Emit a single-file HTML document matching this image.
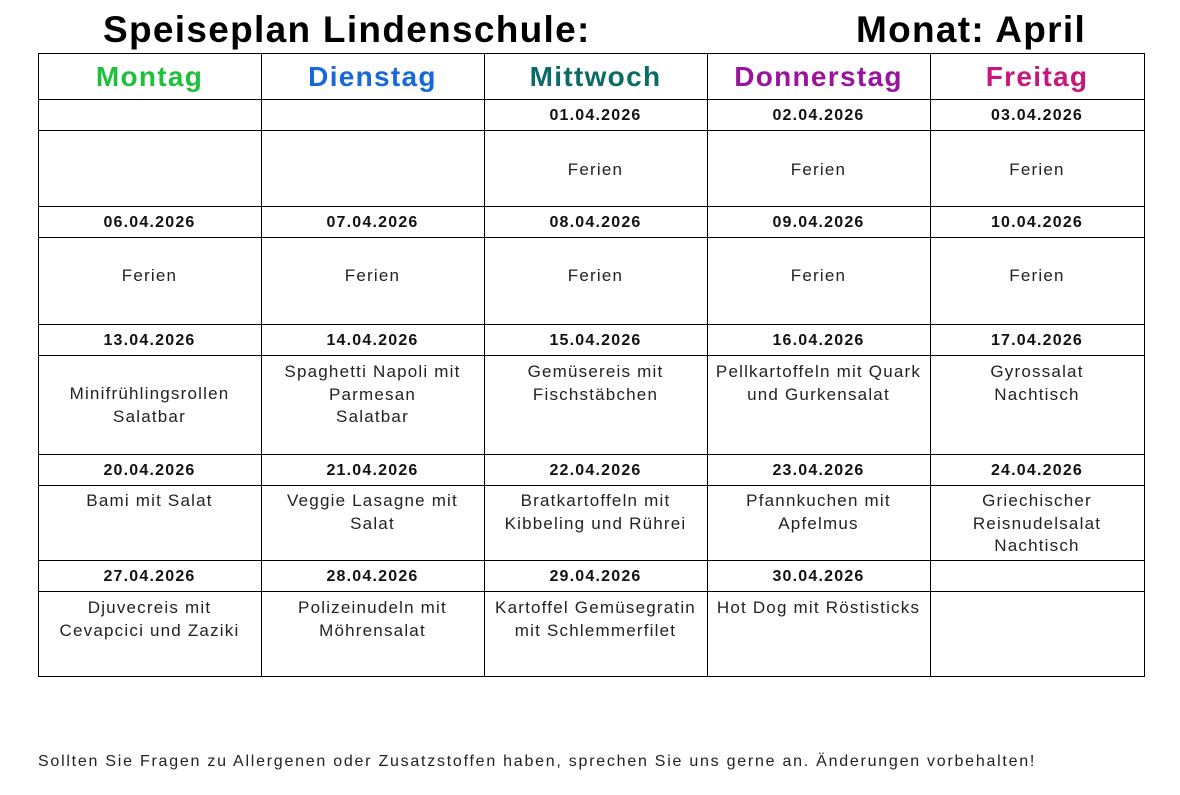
<!DOCTYPE html>
<html><head><meta charset="utf-8"><style>
body{margin:0;width:1180px;height:795px;background:#fff;position:relative;overflow:hidden;font-family:"Liberation Sans",sans-serif;color:#222}
.t{position:absolute;font-weight:bold;font-size:37px;color:#000;white-space:nowrap;top:9px;letter-spacing:1.3px}
.c{position:absolute;box-sizing:border-box;text-align:center;font-size:17px;line-height:22.5px;white-space:nowrap;letter-spacing:1.2px}
.h{font-weight:bold;font-size:28px;display:flex;align-items:center;justify-content:center;letter-spacing:1.3px;padding-top:2px}
.d{font-weight:bold;font-size:16px;display:flex;align-items:center;justify-content:center;color:#111;letter-spacing:1.2px;padding-top:3px}
.l{position:absolute;background:#000}
</style></head><body>
<div class="t" style="left:103px">Speiseplan Lindenschule:</div>
<div class="t" style="left:856px">Monat: April</div>
<div id="g"></div>
<div style="position:absolute;left:38px;top:753px;font-size:16px;color:#222;white-space:nowrap;letter-spacing:1.75px">Sollten Sie Fragen zu Allergenen oder Zusatzstoffen haben, sprechen Sie uns gerne an. Änderungen vorbehalten!</div>
<script>
const X=[38,261,484,707,930,1144],Y=[53,99,130,206,237,324,355,454,485,560,591,676];
let h='';
for(const x of X)h+=`<div class="l" style="left:${x}px;top:53px;width:1px;height:624px"></div>`;
for(const y of Y)h+=`<div class="l" style="left:38px;top:${y}px;width:1107px;height:1px"></div>`;
function cell(ci,ri,cls,html,pad,style=''){h+=`<div class="c ${cls}" style="left:${X[ci]}px;top:${Y[ri]}px;width:${X[ci+1]-X[ci]}px;height:${Y[ri+1]-Y[ri]}px;${pad!==undefined?'padding-top:'+pad+'px;':''}${style}">${html}</div>`;}
const heads=[['Montag','#1fc03c'],['Dienstag','#1768d8'],['Mittwoch','#0d6b66'],['Donnerstag','#9a139e'],['Freitag','#c8177a']];
heads.forEach((v,i)=>cell(i,0,'h',v[0],undefined,'color:'+v[1]));
const dates=[['','','01.04.2026','02.04.2026','03.04.2026'],['06.04.2026','07.04.2026','08.04.2026','09.04.2026','10.04.2026'],['13.04.2026','14.04.2026','15.04.2026','16.04.2026','17.04.2026'],['20.04.2026','21.04.2026','22.04.2026','23.04.2026','24.04.2026'],['27.04.2026','28.04.2026','29.04.2026','30.04.2026','']];
const food=[['','','Ferien','Ferien','Ferien'],['Ferien','Ferien','Ferien','Ferien','Ferien'],['Minifrühlingsrollen<br>Salatbar','Spaghetti Napoli mit<br>Parmesan<br>Salatbar','Gemüsereis mit<br>Fischstäbchen','Pellkartoffeln mit Quark<br>und Gurkensalat','Gyrossalat<br>Nachtisch'],['Bami mit Salat','Veggie Lasagne mit<br>Salat','Bratkartoffeln mit<br>Kibbeling und Rührei','Pfannkuchen mit<br>Apfelmus','Griechischer<br>Reisnudelsalat<br>Nachtisch'],['Djuvecreis mit<br>Cevapcici und Zaziki','Polizeinudeln mit<br>Möhrensalat','Kartoffel Gemüsegratin<br>mit Schlemmerfilet','Hot Dog mit Röstisticks','']];
const pads=[29,28,6,5,6];
for(let r=0;r<5;r++)for(let c=0;c<5;c++){
 cell(c,1+2*r,'d',dates[r][c]);
 let p=pads[r]; if(r==2&&c==0)p=28;
 cell(c,2+2*r,'',food[r][c],p);
}
document.getElementById('g').innerHTML=h;
</script>
</body></html>
